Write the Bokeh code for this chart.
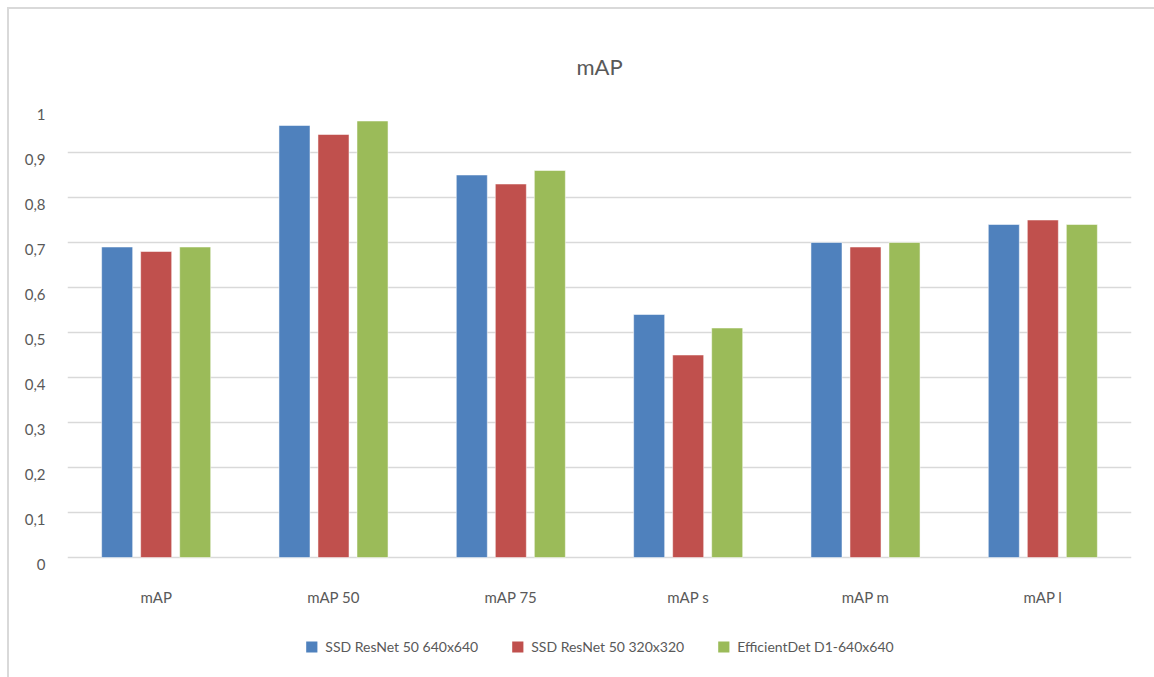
from bokeh.plotting import figure
from bokeh.layouts import column
from bokeh.models import (ColumnDataSource, FactorRange, Range1d, FixedTicker,
                          Legend, LegendItem)
from bokeh.transform import dodge
from bokeh.embed import file_html
from bokeh.resources import INLINE

categories = ["mAP", "mAP 50", "mAP 75", "mAP s", "mAP m", "mAP l"]
series_names = ["SSD ResNet 50 640x640", "SSD ResNet 50 320x320", "EfficientDet D1-640x640"]
ssd640 = [0.69, 0.96, 0.85, 0.54, 0.70, 0.74]
ssd320 = [0.68, 0.94, 0.83, 0.45, 0.69, 0.75]
effdet = [0.69, 0.97, 0.86, 0.51, 0.70, 0.74]
y_ticks = [0, 0.1, 0.2, 0.3, 0.4, 0.5, 0.6, 0.7, 0.8, 0.9, 1.0]
y_tick_labels = ["0", "0,1", "0,2", "0,3", "0,4", "0,5", "0,6", "0,7", "0,8", "0,9", "1"]

colors = ["#4F81BD", "#C0504D", "#9BBB59"]
FONT = "Lato"
TXT = "#595959"
LABEL_SHIFT = 0.016  # labels sit slightly below their gridline, as in the original

source = ColumnDataSource(dict(cats=categories, s1=ssd640, s2=ssd320, s3=effdet))

p = figure(x_range=FactorRange(*categories), y_range=Range1d(-0.02, 1),
           width=1145, height=606, output_backend="svg", toolbar_location=None,
           min_border_left=58, min_border_right=23, min_border_top=98,
           min_border_bottom=49, title="mAP")
p.outline_line_color = None
p.title.align = "center"
p.title.text_font = FONT
p.title.text_font_size = "22px"
p.title.text_font_style = "normal"
p.title.text_color = TXT
p.title.standoff = 55

renderers = []
for key, off, col in zip(["s1", "s2", "s3"], [-0.22, 0.0, 0.22], colors):
    r = p.vbar(x=dodge("cats", off, range=p.x_range), top=key, bottom=0, width=0.175,
               source=source, fill_color=col, line_color="white", line_alpha=0.5,
               line_width=1)
    renderers.append(r)

p.xgrid.grid_line_color = None
p.ygrid.grid_line_color = "#d9d9d9"
p.ygrid.grid_line_width = 1.5
p.ygrid.ticker = FixedTicker(ticks=y_ticks)
label_pos = [round(t - LABEL_SHIFT, 4) for t in y_ticks]
p.yaxis.ticker = FixedTicker(ticks=label_pos)
p.yaxis.major_label_overrides = {t: l for t, l in zip(label_pos, y_tick_labels)}

for ax in [p.xaxis[0], p.yaxis[0]]:
    ax.axis_line_color = None
    ax.major_tick_line_color = None
    ax.minor_tick_line_color = None
    ax.major_tick_out = 0
    ax.major_tick_in = 0
    ax.major_label_text_font = FONT
    ax.major_label_text_font_size = "15px"
    ax.major_label_text_color = TXT
p.yaxis.major_label_standoff = 22
p.xaxis.major_label_standoff = 21

# legend panel below the chart
p2 = figure(width=1145, height=62, output_backend="svg", toolbar_location=None,
            min_border_left=0, min_border_right=8, min_border_top=0, min_border_bottom=0,
            x_range=Range1d(0, 1), y_range=Range1d(0, 1))
p2.axis.visible = False
p2.grid.grid_line_color = None
p2.outline_line_color = None
leg_renderers = []
for col in colors:
    # placeholder glyphs (outside the visible range) that only supply the legend swatches
    leg_renderers.append(p2.vbar(x=[-5], top=[-5], bottom=[-6], width=0.1,
                                 fill_color=col, line_color=None))

legend = Legend(items=[LegendItem(label=n, renderers=[r]) for n, r in zip(series_names, leg_renderers)],
                orientation="horizontal", location="center",
                glyph_width=14, glyph_height=14, label_standoff=7, spacing=32,
                label_text_font=FONT, label_text_font_size="14px", label_text_color=TXT,
                border_line_color=None, background_fill_alpha=0, margin=0, padding=4)
p2.add_layout(legend, "center")

layout = column(p, p2, spacing=0)
layout.styles = {"margin-left": "7px", "margin-top": "7px",
                 "border-left": "2px solid #d9d9d9", "border-top": "2px solid #d9d9d9"}

open("out.html", "w").write(file_html(layout, INLINE))
